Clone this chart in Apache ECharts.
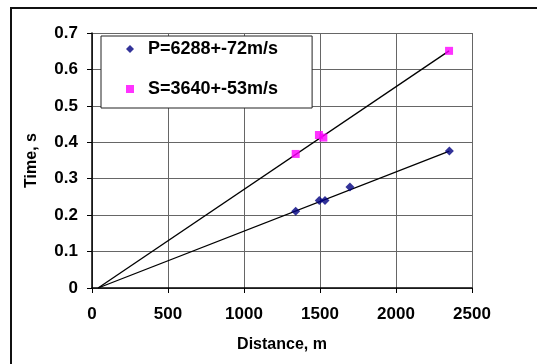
<!DOCTYPE html>
<html>
<head>
<meta charset="utf-8">
<script src="https://cdn.jsdelivr.net/npm/echarts@6/dist/echarts.min.js"></script>
<style>
  html, body { margin: 0; padding: 0; background: #fff; }
  #chart { width: 537px; height: 364px; }
</style>
</head>
<body>
<div id="chart"></div>
<script>
// Travel-time measurements: P and S wave arrivals vs. source distance
const pDistance = [1340, 1495, 1533, 1697, 2351];
const pTime     = [0.211, 0.240, 0.240, 0.277, 0.376];
const sDistance = [1340, 1493, 1522, 2349];
const sTime     = [0.368, 0.420, 0.413, 0.651];

// Fitted travel-time lines (start and end points)
const pFit = [[40, 0], [2351, 0.376]];
const sFit = [[40, 0], [2349, 0.651]];

const pLabel = 'P=6288+-72m/s';
const sLabel = 'S=3640+-53m/s';

const xTicks = { min: 0, max: 2500, step: 500 };
const yTicks = { min: 0, max: 0.7, step: 0.1 };

const FONT = 'Liberation Sans, Arial, sans-serif';

const chart = echarts.init(document.getElementById('chart'), null, { renderer: 'canvas' });

const labelStyle = { color: '#000', fontFamily: FONT, fontWeight: 'bold', fontSize: 17 };

chart.setOption({
  animation: false,
  backgroundColor: '#fff',
  grid: { left: 92, right: 65, top: 33, bottom: 76, containLabel: false },
  graphic: [{
    type: 'rect',
    shape: { x: 11, y: 8, width: 700, height: 500 },
    style: { fill: 'none', stroke: '#111', lineWidth: 2 },
    silent: true
  }],
  xAxis: {
    type: 'value',
    min: xTicks.min, max: xTicks.max, interval: xTicks.step,
    name: 'Distance, m',
    nameLocation: 'middle',
    nameGap: 49,
    nameTextStyle: Object.assign({}, labelStyle, { fontSize: 16, verticalAlign: 'top' }),
    axisLine: { show: true, lineStyle: { color: '#000', width: 1.5 } },
    axisTick: { show: true, inside: false, length: 5, lineStyle: { color: '#000' } },
    axisLabel: Object.assign({ margin: 18, formatter: v => String(v) }, labelStyle),
    splitLine: { show: true, lineStyle: { color: '#666', width: 1 } }
  },
  yAxis: {
    type: 'value',
    min: yTicks.min, max: yTicks.max, interval: yTicks.step,
    name: 'Time, s',
    nameLocation: 'middle',
    nameRotate: 90,
    nameGap: 52,
    nameTextStyle: Object.assign({}, labelStyle, { fontSize: 16 }),
    axisLine: { show: true, lineStyle: { color: '#000', width: 1.5 } },
    axisTick: { show: true, inside: false, length: 5, lineStyle: { color: '#000' } },
    axisLabel: Object.assign({ margin: 14, formatter: v => (Math.round(v * 10) / 10).toString() }, labelStyle),
    splitLine: { show: true, lineStyle: { color: '#666', width: 1 } }
  },
  legend: {
    orient: 'vertical',
    left: 101, top: 36,
    padding: [4, 34, 10, 25],
    itemGap: 22,
    itemWidth: 8, itemHeight: 8,
    backgroundColor: '#fff',
    borderColor: '#222', borderWidth: 1,
    data: [
      { name: pLabel, icon: 'diamond' },
      { name: sLabel, icon: 'rect' }
    ],
    textStyle: Object.assign({}, labelStyle, { fontSize: 18, lineHeight: 18, padding: [0, 0, 0, 9] })
  },
  series: [
    {
      type: 'line', data: pFit, symbol: 'none', silent: true,
      lineStyle: { color: '#000', width: 1.3 }, z: 2
    },
    {
      type: 'line', data: sFit, symbol: 'none', silent: true,
      lineStyle: { color: '#000', width: 1.3 }, z: 2
    },
    {
      name: pLabel, type: 'scatter', symbol: 'diamond', symbolSize: 9,
      itemStyle: { color: '#000080' }, z: 3,
      data: pDistance.map((d, i) => [d, pTime[i]])
    },
    {
      name: sLabel, type: 'scatter', symbol: 'rect', symbolSize: 8,
      itemStyle: { color: '#FF00FF' }, z: 3,
      data: sDistance.map((d, i) => [d, sTime[i]])
    }
  ]
});
</script>
</body>
</html>
